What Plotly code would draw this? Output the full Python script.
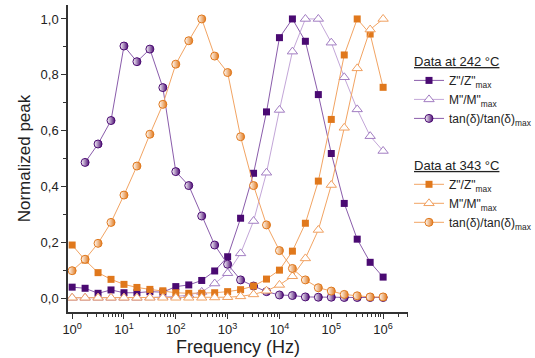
import plotly.graph_objects as go

# frequencies: 4 points per decade, 10^0 .. 10^6
exponents = [k / 4 for k in range(25)]
freq = [10 ** e for e in exponents]

z_242 = [0.039, 0.035, 0.017, 0.029, 0.019, 0.019, 0.023, 0.021, 0.041, 0.047, 0.063,
         0.097, 0.148, 0.286, 0.447, 0.667, 0.933, 1.0, 0.92, 0.729, 0.518, 0.339,
         0.211, 0.128, 0.075]
m_242 = [0.001, 0.001, 0.001, 0.001, 0.001, 0.001, 0.002, 0.004, 0.006, 0.011, 0.022,
         0.052, 0.089, 0.16, 0.276, 0.449, 0.674, 0.883, 1.0, 1.0, 0.915, 0.791,
         0.676, 0.58, 0.527]
tan_242 = [None, 0.486, 0.552, 0.636, 0.903, 0.847, 0.892, 0.754, 0.453, 0.403, 0.294,
           0.19, 0.121, 0.065, 0.043, 0.023, 0.011, 0.009, 0.004, 0.003, 0.003, 0.002,
           0.002, 0.002, 0.002]

z_343 = [0.19, 0.136, 0.091, 0.067, 0.049, 0.038, 0.031, 0.026, 0.019, 0.017, 0.017,
         0.019, 0.023, 0.030, 0.043, 0.068, 0.100, 0.168, 0.268, 0.419, 0.64, 0.871,
         1.0, 0.946, 0.755]
m_343 = [0.001, 0.001, 0.001, 0.001, 0.001, 0.001, 0.001, 0.001, 0.001, 0.001, 0.001,
         0.002, 0.003, 0.006, 0.013, 0.026, 0.047, 0.078, 0.142, 0.244, 0.405, 0.61,
         0.823, 0.962, 1.0]
tan_343 = [0.098, 0.139, 0.196, 0.271, 0.369, 0.473, 0.587, 0.694, 0.838, 0.922, 1.0,
           0.867, 0.808, 0.578, 0.403, 0.262, 0.17, 0.106, 0.065, 0.037, 0.025, 0.013,
           0.008, 0.004, 0.004]

x_tickvals = [10 ** i for i in range(7)]
x_ticktext = [f"10<sup>{i}</sup>" for i in range(7)]
x_minor = [m * 10 ** d for d in range(7) for m in range(2, 10)]

DARK_P = "#4a0a72"
LINE_P = "#8a5cab"
LIGHT_P = "#a27dc2"
LINE_LP = "#c3a6d8"
ORANGE = "#e0781c"
LINE_O = "#f2a463"
LIGHT_O = "#f0a060"

FONT = "Liberation Sans, Arial, sans-serif"

fig = go.Figure()

def add(y, name, group, title, marker, linecolor, rank):
    fig.add_trace(go.Scatter(
        x=freq, y=y, name=name, mode="lines+markers",
        line=dict(color=linecolor, width=1),
        marker=marker,
        legendgroup=group, legendrank=rank,
        legendgrouptitle=dict(text=title, font=dict(size=13, color="#222")),
        connectgaps=False,
    ))

t1 = "<u>Data at 242 °C</u>"
t2 = "<u>Data at 343 °C</u>"

add(z_242, 'Z"/Z"<sub>max</sub>', "g242", t1,
    dict(symbol="square", size=7, color=DARK_P, line=dict(width=0)), LINE_P, 1)
add(m_242, 'M"/M"<sub>max</sub>', "g242", t1,
    dict(symbol="triangle-up", size=9, color="white", line=dict(width=1, color=LIGHT_P)), LINE_LP, 2)
add(tan_242, 'tan(δ)/tan(δ)<sub>max</sub>', "g242", t1,
    dict(symbol="circle", size=8, color="white", line=dict(width=1, color=DARK_P),
         gradient=dict(type="horizontal", color=DARK_P)), LINE_P, 3)

add(z_343, 'Z"/Z"<sub>max</sub>', "g343", t2,
    dict(symbol="square", size=7, color=ORANGE, line=dict(width=0)), LINE_O, 4)
add(m_343, 'M"/M"<sub>max</sub>', "g343", t2,
    dict(symbol="triangle-up", size=9, color="white", line=dict(width=1, color=LIGHT_O)), LINE_O, 5)
add(tan_343, 'tan(δ)/tan(δ)<sub>max</sub>', "g343", t2,
    dict(symbol="circle", size=8, color="white", line=dict(width=1, color=ORANGE),
         gradient=dict(type="horizontal", color=ORANGE)), LINE_O, 6)

fig.update_layout(
    width=535, height=358, autosize=False,
    margin=dict(l=68, r=127, t=5, b=46),
    paper_bgcolor="white", plot_bgcolor="white",
    separators=", ",
    font=dict(family=FONT, size=13, color="#222"),
    legend=dict(
        xref="container", yref="container",
        x=0.7645, xanchor="left", y=0.8715, yanchor="top",
        maxheight=300,
        traceorder="grouped", tracegroupgap=27,
        font=dict(size=12, family=FONT, color="#222"),
        bgcolor="rgba(0,0,0,0)",
    ),
    xaxis=dict(
        type="log", range=[-0.08, 6.48], automargin=False,
        tickvals=x_tickvals, ticktext=x_ticktext,
        ticks="outside", ticklen=5, tickwidth=1, tickcolor="#333",
        minor=dict(tickvals=x_minor, ticks="outside", ticklen=3, tickcolor="#333"),
        showgrid=False, zeroline=False,
        showline=True, linecolor="#333", linewidth=1.5,
        tickfont=dict(size=13),
        title=dict(text="Frequency (Hz)", font=dict(size=18), standoff=2),
    ),
    yaxis=dict(
        range=[-0.05, 1.05], automargin=False,
        tickvals=[0, 0.2, 0.4, 0.6, 0.8, 1.0], tickformat=".1f",
        ticks="outside", ticklen=5, tickwidth=1, tickcolor="#333",
        minor=dict(tickvals=[0.1, 0.3, 0.5, 0.7, 0.9], ticks="outside", ticklen=3, tickcolor="#333"),
        showgrid=False, zeroline=False,
        showline=True, linecolor="#333", linewidth=1.5,
        tickfont=dict(size=13),
        title=dict(text="Normalized peak", font=dict(size=17), standoff=6),
    ),
)

fig.write_html(
    "out.html",
    config={"displayModeBar": False, "responsive": False},
    post_script=("document.documentElement.style.overflow='hidden';"
                 "document.body.style.overflow='hidden';"
                 "document.body.style.margin='0';"),
)
